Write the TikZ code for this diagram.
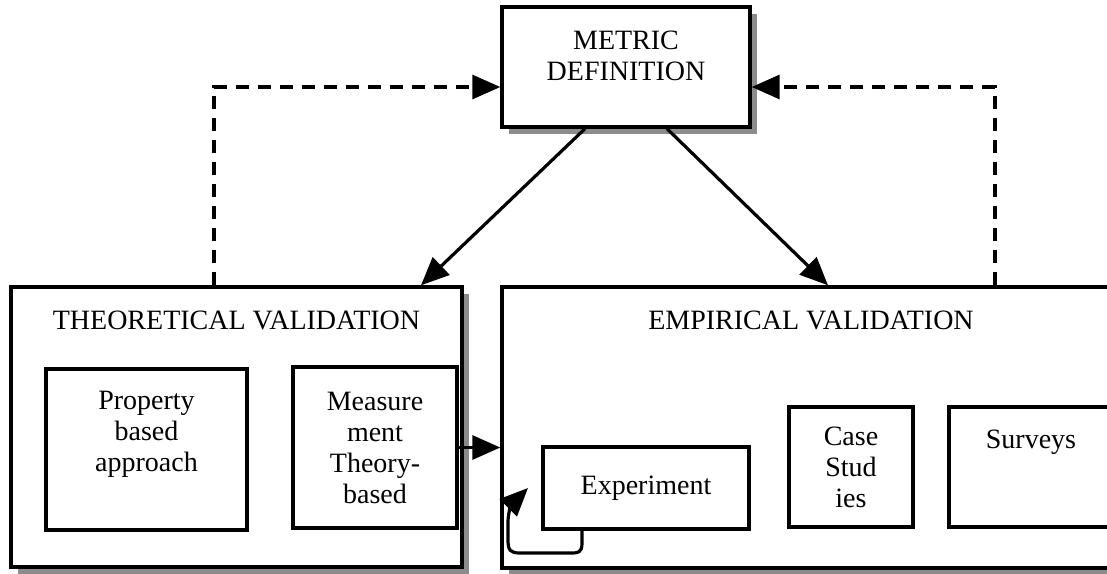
\documentclass[tikz,border=0pt]{standalone}
\usepackage{fontspec}
\setmainfont{Liberation Serif}
\usetikzlibrary{arrows.meta,shadows,calc}
\tikzset{
  box/.style={draw,line width=1.7pt,fill=white,inner sep=0pt},
  shadowed/.style={drop shadow={shadow xshift=3.5pt,shadow yshift=-3.5pt,fill=black!45,opacity=1}},
  txt/.style={align=center,inner sep=0pt,font=\fontsize{14}{15.5}\selectfont},
  link/.style={line width=1.6pt,-{Triangle[length=14pt,width=12pt]}},
  back/.style={link,dash pattern=on 6.5pt off 4.5pt},
}
\begin{document}
\begin{tikzpicture}[x=0.5pt,y=-0.5pt]
\useasboundingbox (0,0) rectangle (1107,573);
\node[box,shadowed,minimum width=124pt,minimum height=60pt] (metric) at (626,67) {};
\node[txt] (metrictxt) at (626,56) {METRIC\\DEFINITION};
\node[box,shadowed,minimum width=225.5pt,minimum height=140pt] (theory) at (236.5,427) {};
\node[txt] (theorytxt) at (236.5,320) {THEORETICAL VALIDATION};
\node[box,shadowed,minimum width=309pt,minimum height=140.5pt] (empiric) at (811,427.5) {};
\node[txt] (empirictxt) at (811,320) {EMPIRICAL VALIDATION};
\node[box,minimum width=100.5pt,minimum height=80.5pt] (property) at (146.5,449.5) {};
\node[txt] (propertytxt) at (146.5,434) {Property\\based\\approach};
\node[box,txt,minimum width=82pt,minimum height=80.5pt] (measure) at (375,447.5) {Measure\\ment\\Theory-\\based};
\node[box,txt,minimum width=103pt,minimum height=41pt] (experiment) at (646,488) {Experiment};
\node[box,txt,minimum width=62pt,minimum height=60pt] (casestudy) at (851,467) {Case\\Stud\\ies};
\node[box,minimum width=85.5pt,minimum height=60pt] (surveys) at (1034.5,467) {};
\node[txt] (surveystxt) at (1031,442) {Surveys};
\draw[link] ($(metric.south)+(-41,0)$) -- ($(theory.north)+(184.5,0)$);
\draw[link] ($(metric.south)+(41,0)$) -- ($(empiric.north)+(17,0)$);
\draw[back] ($(theory.north)+(-22.5,0)$) |- ($(metric.west)+(0,20)$);
\draw[back] ($(empiric.north)+(184,0)$) |- ($(metric.east)+(0,20)$);
\draw[link] (measure.east) -- (measure.east -| empiric.west);
\draw[link] ($(experiment.south)+(-64,0)$) -- (582,543) .. controls (582,553) and (578,553) .. (570,553) -- (520,553) .. controls (510,553) and (508,550) .. (508,540) -- (508,522) .. controls (508,512) and (512,504) .. (528,488);
\end{tikzpicture}
\end{document}
